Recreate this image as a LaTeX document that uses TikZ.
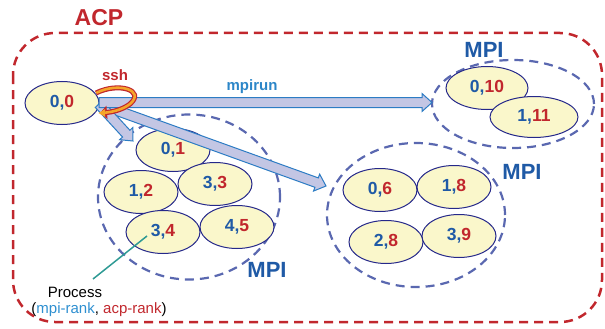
\documentclass[tikz,border=0pt]{standalone}
\usepackage{fontspec}
\setmainfont{Liberation Sans}
\usetikzlibrary{calc,arrows.meta,shapes.geometric}
\definecolor{acpred}{HTML}{C1272D}
\definecolor{numblue}{HTML}{1F5AA6}
\definecolor{numred}{HTML}{C1272D}
\definecolor{grpdash}{HTML}{5A68B0}
\definecolor{procfill}{HTML}{FAF7CB}
\definecolor{procdraw}{HTML}{25288A}
\definecolor{arrfill}{HTML}{C3C6E4}
\definecolor{arrdraw}{HTML}{2C7CC4}
\definecolor{sshorange}{HTML}{F4A52A}
\definecolor{tealline}{HTML}{2E9A94}
\definecolor{mpirunblue}{HTML}{2C86C8}
\definecolor{lblblue}{HTML}{2E8FD0}
\newcommand\pr[2]{\textcolor{numblue}{#1,}\textcolor{numred}{#2}}
\newcommand\fatarrow[3]{%
  \coordinate (#3h) at ($(#2)!10pt!(#1)$);
  \draw[fatarr]
    ($(#1)!5pt!90:(#2)$) -- ($(#3h)!5pt!-90:(#1)$) -- ($(#3h)!9pt!-90:(#1)$) -- (#2)
    -- ($(#3h)!9pt!90:(#1)$) -- ($(#3h)!5pt!90:(#1)$) -- ($(#1)!5pt!-90:(#2)$) -- cycle;}
\tikzset{
  proc/.style={ellipse, draw=procdraw, line width=1pt, fill=procfill, minimum width=74pt,
    minimum height=43pt, inner sep=0pt, font=\fontsize{17.5}{17.5}\selectfont\bfseries},
  grp/.style={ellipse, draw=grpdash, dash pattern=on 9pt off 6pt, line width=2.2pt, inner sep=0pt},
  mpilbl/.style={text=numblue, font=\fontsize{22}{22}\selectfont\bfseries, inner sep=0pt},
  fatarr/.style={draw=arrdraw, fill=arrfill, line width=1pt, line join=miter},
}
\begin{document}
\begin{tikzpicture}[x=1pt,y=-1pt]
\useasboundingbox (0,0) rectangle (605,329);
% ACP frame
\draw[acpred, line width=2.5pt, dash pattern=on 9pt off 6pt, rounded corners=42pt]
  (13,33) rectangle (602,322);
\node[text=acpred, font=\fontsize{23}{23}\selectfont\bfseries, inner sep=0pt] (acp) at (99,18) {ACP};
% groups
\node[grp, minimum width=182pt, minimum height=165pt] (g1) at (189,197) {};
\node[grp, minimum width=162pt, minimum height=88pt] (g2) at (513,104) {};
\node[grp, minimum width=178pt, minimum height=144pt] (g3) at (416,215) {};
\node[mpilbl] (m1) at (267,270) {MPI};
\node[mpilbl] (m2) at (484,50) {MPI};
\node[mpilbl] (m3) at (522,172) {MPI};
% processes
\node[proc] (p00) at (62,103) {\pr{0}{0}};
\node[proc] (p01) at (173,150) {\pr{0}{1}};
\node[proc] (p12) at (141,192) {\pr{1}{2}};
\node[proc] (p33) at (215,184) {\pr{3}{3}};
\node[proc] (p34) at (163,232) {\pr{3}{4}};
\node[proc] (p45) at (237,227) {\pr{4}{5}};
\node[proc, minimum width=82pt] (p010) at (487,88) {\pr{0}{10}};
\node[proc, minimum width=88pt, minimum height=41pt] (p111) at (534,117) {\pr{1}{11}};
\node[proc] (p06) at (380,190) {\pr{0}{6}};
\node[proc] (p18) at (454,187) {\pr{1}{8}};
\node[proc] (p28) at (386,242) {\pr{2}{8}};
\node[proc] (p39) at (459,236) {\pr{3}{9}};
% arrows
\coordinate (s1) at (99,102.5);
\coordinate (t1) at (432,102.5);
\coordinate (s2) at (99,104);
\coordinate (t2) at (133,141);
\coordinate (t3) at (326,186);
\fatarrow{s2}{t3}{a3}
\fatarrow{s2}{t2}{a2}
\fatarrow{s1}{t1}{a1}
\node[text=mpirunblue, font=\fontsize{15}{15}\selectfont\bfseries, inner sep=0pt] (mpirun) at (252,87) {mpirun};
% ssh loop
\draw[acpred, line width=5pt, -{Triangle[length=7pt,width=13pt]}]
  (96,93) .. controls (118,82) and (146,90) .. (130,104) .. controls (122,110) and (112,112) .. (100,113);
\draw[sshorange, line width=2.6pt, line cap=round]
  (97,92.6) .. controls (118,82) and (146,90) .. (130,104) .. controls (122,110) and (112,112) .. (104,112.8);
\fill[sshorange] (98.5,113) -- (105,109.2) -- (105,116.8) -- cycle;
\node[text=acpred, font=\fontsize{15}{15}\selectfont\bfseries, inner sep=0pt] (ssh) at (115,75) {ssh};
% process legend
\node[font=\fontsize{15}{15}\selectfont, inner sep=0pt] (proc) at (75,292) {Process};
\node[font=\fontsize{15}{15}\selectfont, inner sep=0pt] (rank) at (99,310) {(\textcolor{lblblue}{mpi-rank}, \textcolor{acpred}{acp-rank})};
\coordinate (pt) at (147,236);
\coordinate (pe) at (93,279);
\draw[tealline, line width=1.5pt] (pt) -- (pe);
\end{tikzpicture}
\end{document}
